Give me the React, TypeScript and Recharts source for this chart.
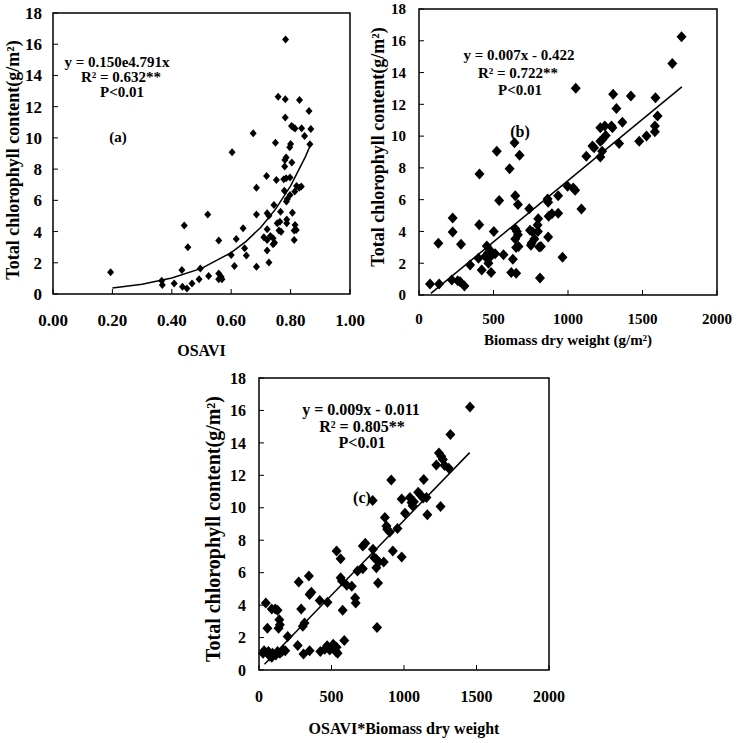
import { ScatterChart, Scatter, XAxis, YAxis, ReferenceArea, Label } from "recharts";

const FONT = '"Liberation Serif", "Times New Roman", serif';

// shared y ticks (total chlorophyll, g/m2)
const chlTicks = [0, 2, 4, 6, 8, 10, 12, 14, 16, 18];
const osaviTicks = [0, 0.2, 0.4, 0.6, 0.8, 1.0];
const biomassTicks = [0, 500, 1000, 1500, 2000];

// (a) OSAVI vs chlorophyll
const osaviA = [
  0.194, 0.366, 0.368, 0.408, 0.434, 0.436, 0.451, 0.442, 0.454, 0.468, 0.492, 0.496, 0.521, 0.524,
  0.558, 0.558, 0.566, 0.558, 0.569, 0.6, 0.603, 0.611, 0.617, 0.64, 0.645, 0.651, 0.674, 0.685,
  0.685, 0.685, 0.71, 0.719, 0.721, 0.727, 0.721, 0.721, 0.721, 0.727, 0.732, 0.741, 0.746, 0.741,
  0.744, 0.749, 0.752, 0.755, 0.758, 0.761, 0.764, 0.766, 0.768, 0.777, 0.779, 0.78, 0.781, 0.782,
  0.782, 0.783, 0.785, 0.785, 0.786, 0.787, 0.787, 0.789, 0.797, 0.798, 0.798, 0.8, 0.803, 0.804,
  0.806, 0.809, 0.812, 0.812, 0.814, 0.815, 0.815, 0.819, 0.82, 0.829, 0.83, 0.836, 0.837, 0.847,
  0.862, 0.865, 0.868,
];
const chlA = [
  1.39, 0.85, 0.58, 0.68, 1.54, 0.47, 0.36, 4.38, 2.99, 0.68, 0.94, 1.64, 5.1, 1.15,
  3.42, 1.32, 1.11, 0.94, 0.94, 2.5, 9.08, 1.79, 3.52, 4.21, 2.93, 2.46, 10.29, 6.81,
  5.1, 1.75, 3.63, 7.56, 5.17, 5.02, 4.14, 3.46, 2.78, 2.01, 3.72, 3.57, 3.29, 3.18,
  5.7, 9.69, 7.3, 4.53, 12.64, 4.06, 4.63, 5.27, 3.99, 7.35, 6.62, 8.16, 8.58, 12.47,
  11.3, 16.31, 8.75, 7.41, 5.92, 4.78, 4.53, 6.09, 9.4, 7.47, 6.34, 9.61, 10.76, 8.43,
  5.21, 10.68, 4.06, 3.46, 6.56, 10.6, 4.42, 4.1, 6.92, 6.81, 12.43, 6.88, 10.61, 10.12,
  11.72, 9.59, 10.57,
];
const fitOsavi = [0.2, 0.3, 0.4, 0.5, 0.6, 0.65, 0.7, 0.75, 0.8, 0.85, 0.87];
const fitChlA = [0.39, 0.63, 1.02, 1.64, 2.65, 3.37, 4.28, 5.45, 6.93, 8.8, 9.69];

// (b) biomass dry weight vs chlorophyll
const biomassB = [
  74, 135, 130, 220, 260, 276, 305, 226, 226, 282, 343, 399, 404, 406, 421, 444, 462, 455, 478, 466,
  484, 511, 484, 502, 567, 522, 538, 608, 641, 675, 646, 664, 630, 619, 652, 646, 657, 664, 646, 668,
  652, 740, 745, 763, 756, 774, 751, 796, 800, 798, 807, 818, 812, 867, 863, 867, 870, 892, 934, 934,
  963, 997, 1035, 1048, 1090, 1052, 1123, 1164, 1175, 1217, 1217, 1217, 1229, 1231, 1247, 1253, 1292,
  1298, 1303, 1325, 1343, 1365, 1422, 1478, 1527, 1583, 1583, 1587, 1601, 1700, 1762,
];
const chlB = [
  0.69, 0.69, 3.26, 0.95, 0.9, 0.84, 0.57, 4.84, 3.96, 3.2, 1.89, 2.32, 4.42, 7.62, 1.58, 2.42, 2.63, 3.09, 2.8, 2.0,
  2.46, 2.59, 1.41, 4.0, 2.53, 9.05, 5.94, 7.94, 9.58, 8.8, 6.25, 5.7, 2.25, 1.41, 1.37, 4.17, 4.0, 3.79, 3.52, 3.05,
  2.99, 5.43, 4.07, 3.96, 3.27, 3.52, 3.13, 4.41, 4.8, 4.0, 3.02, 3.06, 1.07, 3.65, 6.04, 5.83, 4.95, 5.12, 5.14, 6.25,
  2.37, 6.84, 6.73, 6.59, 5.41, 13.01, 8.74, 9.37, 9.26, 10.53, 9.68, 8.69, 9.05, 9.79, 10.63, 10.04, 10.63,
  10.53, 12.63, 11.73, 9.54, 10.88, 12.53, 9.68, 10.0, 10.63, 10.27, 12.42, 11.26, 14.57, 16.25,
];
const fitBiomass = [80, 1764];
const fitChlB = [0.1, 13.1];

// (c) OSAVI*biomass vs chlorophyll
const productC = [
  28, 35, 47, 58, 65, 74, 88, 93, 116, 128, 144, 158, 167, 181, 88, 112, 128, 140, 144, 135,
  198, 267, 307, 349, 274, 291, 302, 314, 344, 361, 349, 419, 472, 423, 454, 470, 488, 512, 530, 535,
  542, 588, 535, 563, 563, 572, 577, 605, 640, 663, 667, 679, 716, 716, 733, 784, 786, 795, 809, 809,
  821, 826, 814, 860, 868, 879, 884, 902, 912, 923, 955, 984, 984, 1007, 1041, 1052, 1059, 1068, 1098,
  1114, 1132, 1136, 1155, 1161, 1223, 1241, 1252, 1257, 1268, 1280, 1309, 1320, 1455,
];
const chlC = [
  1.03, 1.18, 4.13, 2.58, 1.14, 0.87, 0.79, 1.03, 0.93, 1.14, 1.03, 1.14, 1.24, 1.18, 3.76, 3.76, 3.68, 3.1, 2.79, 2.58,
  2.07, 1.51, 0.99, 1.18, 5.43, 3.76, 2.69, 2.89, 5.79, 4.79, 4.65, 4.28, 4.17, 1.14, 1.28, 1.49, 1.24, 1.59, 1.14, 1.4,
  1.03, 1.82, 7.33, 6.86, 5.68, 5.48, 3.68, 5.23, 5.17, 4.44, 4.13, 6.1, 6.24, 7.64, 7.81, 10.45, 7.44, 6.92, 6.82, 6.3,
  5.37, 6.65, 2.62, 6.65, 9.4, 8.88, 8.68, 8.51, 11.71, 7.33, 8.72, 6.96, 10.54, 9.67, 10.64, 10.33, 10.12, 10.37, 10.95,
  10.79, 10.6, 11.74, 10.64, 9.57, 12.64, 13.37, 10.08, 13.18, 12.98, 12.6, 12.44, 14.52, 16.22,
];
const fitProduct = [38, 1453];
const fitChlC = [0.35, 13.4];

const zip = (xs: number[], ys: number[]) => xs.map((x, i) => ({ x, y: ys[i] }));

const diamond = (w: number, h: number) => (props: any) => {
  const { cx, cy } = props;
  return <path d={`M${cx},${cy - h}L${cx + w},${cy}L${cx},${cy + h}L${cx - w},${cy}Z`} fill="#000" />;
};
const noMarker = () => <g />;

interface PanelProps {
  left: number;
  top: number;
  width: number;
  height: number;
  margin: { top: number; right: number; bottom: number; left: number };
  yAxisWidth: number;
  points: { x: number; y: number }[];
  fit: { x: number; y: number }[];
  xDomain: [number, number];
  xTicks: number[];
  xFmt?: (v: number) => string;
  tickFont: number;
  xTickMargin: number;
  yTickMargin: number;
  marker: [number, number];
  xTitle: string;
  xTitleDx: number;
  xTitleDy: number;
  xTitleFont: number;
  yTitle: string;
  yTitleDx: number;
  yTitleDy: number;
  yTitleFont: number;
}

const Panel = (p: PanelProps) => {
  const tickStyle = { fill: "#000", fontSize: p.tickFont, fontWeight: "bold", fontFamily: FONT };
  return (
    <div style={{ position: "absolute", left: p.left, top: p.top }}>
      <ScatterChart width={p.width} height={p.height} margin={p.margin}>
        <XAxis
          type="number"
          dataKey="x"
          domain={p.xDomain}
          ticks={p.xTicks}
          interval={0}
          tickFormatter={p.xFmt}
          height={60}
          axisLine={false}
          tickLine={{ stroke: "#000" }}
          tickSize={-5}
          tickMargin={p.xTickMargin}
          tick={tickStyle}
        >
          <Label
            value={p.xTitle}
            position="center"
            dx={p.xTitleDx}
            dy={p.xTitleDy}
            fill="#000"
            fontSize={p.xTitleFont}
            fontWeight="bold"
            fontFamily={FONT}
          />
        </XAxis>
        <YAxis
          type="number"
          dataKey="y"
          domain={[0, 18]}
          ticks={chlTicks}
          interval={0}
          width={p.yAxisWidth}
          axisLine={false}
          tickLine={{ stroke: "#000" }}
          tickSize={-5}
          tickMargin={p.yTickMargin}
          tick={tickStyle}
        >
          <Label
            value={p.yTitle}
            position="center"
            angle={-90}
            dx={p.yTitleDx}
            dy={p.yTitleDy}
            fill="#000"
            fontSize={p.yTitleFont}
            fontWeight="bold"
            fontFamily={FONT}
          />
        </YAxis>
        <ReferenceArea x1={p.xDomain[0]} x2={p.xDomain[1]} y1={0} y2={18} fill="none" stroke="#000" strokeWidth={1.5} />
        <Scatter data={p.points} shape={diamond(p.marker[0], p.marker[1])} isAnimationActive={false} />
        <Scatter
          data={p.fit}
          shape={noMarker}
          line={{ stroke: "#000", strokeWidth: 1.5 }}
          lineType="joint"
          isAnimationActive={false}
        />
      </ScatterChart>
    </div>
  );
};

const Note = ({ x, y, size, children }: { x: number; y: number; size: number; children: any }) => (
  <div
    style={{
      position: "absolute",
      left: x,
      top: y,
      transform: "translate(-50%, -50%)",
      fontFamily: FONT,
      fontWeight: "bold",
      fontSize: size,
      lineHeight: 0.85,
      whiteSpace: "nowrap",
      color: "#000",
    }}
  >
    {children}
  </div>
);

const yTitle = "Total chlorophyll content(g/m²)";

export default function App() {
  return (
    <div style={{ position: "absolute", left: 0, top: 0, width: 737, height: 743, background: "#fff" }}>
      <Panel
        left={0}
        top={0}
        width={370}
        height={370}
        margin={{ top: 13, right: 20, bottom: 16, left: 0 }}
        yAxisWidth={53}
        points={zip(osaviA, chlA)}
        fit={zip(fitOsavi, fitChlA)}
        xDomain={[0, 1]}
        xTicks={osaviTicks}
        xFmt={(v) => v.toFixed(2)}
        tickFont={17}
        xTickMargin={25}
        yTickMargin={16}
        marker={[3.5, 4]}
        xTitle="OSAVI"
        xTitleDx={0}
        xTitleDy={26}
        xTitleFont={16}
        yTitle={yTitle}
        yTitleDx={-13.5}
        yTitleDy={6.5}
        yTitleFont={18}
      />
      <Panel
        left={360}
        top={0}
        width={377}
        height={370}
        margin={{ top: 9, right: 20, bottom: 15, left: 0 }}
        yAxisWidth={59}
        points={zip(biomassB, chlB)}
        fit={zip(fitBiomass, fitChlB)}
        xDomain={[0, 2000]}
        xTicks={biomassTicks}
        tickFont={15}
        xTickMargin={23}
        yTickMargin={18}
        marker={[5, 5.5]}
        xTitle="Biomass dry weight (g/m²)"
        xTitleDx={0}
        xTitleDy={15}
        xTitleFont={15}
        yTitle={yTitle}
        yTitleDx={-11.5}
        yTitleDy={-5}
        yTitleFont={18}
      />
      <Panel
        left={190}
        top={360}
        width={380}
        height={383}
        margin={{ top: 18, right: 21, bottom: 13, left: 0 }}
        yAxisWidth={69}
        points={zip(productC, chlC)}
        fit={zip(fitProduct, fitChlC)}
        xDomain={[0, 2000]}
        xTicks={biomassTicks}
        tickFont={16}
        xTickMargin={26}
        yTickMargin={18}
        marker={[5, 5.5]}
        xTitle="OSAVI*Biomass dry weight"
        xTitleDx={0}
        xTitleDy={28}
        xTitleFont={16}
        yTitle={yTitle}
        yTitleDx={-11.5}
        yTitleDy={5}
        yTitleFont={20}
      />

      <Note x={117} y={62} size={15}>y = 0.150e4.791x</Note>
      <Note x={121} y={77} size={15}>R² = 0.632**</Note>
      <Note x={122} y={91.5} size={15}>P&lt;0.01</Note>
      <Note x={118} y={137} size={15}>(a)</Note>

      <Note x={519} y={55} size={15}>y = 0.007x - 0.422</Note>
      <Note x={518} y={73} size={15}>R² = 0.722**</Note>
      <Note x={520} y={90} size={15}>P&lt;0.01</Note>
      <Note x={520} y={132} size={16}>(b)</Note>

      <Note x={361} y={410} size={16}>y = 0.009x - 0.011</Note>
      <Note x={362} y={427} size={16}>R² = 0.805**</Note>
      <Note x={362} y={443} size={16}>P&lt;0.01</Note>
      <Note x={362} y={498} size={16}>(c)</Note>
    </div>
  );
}
